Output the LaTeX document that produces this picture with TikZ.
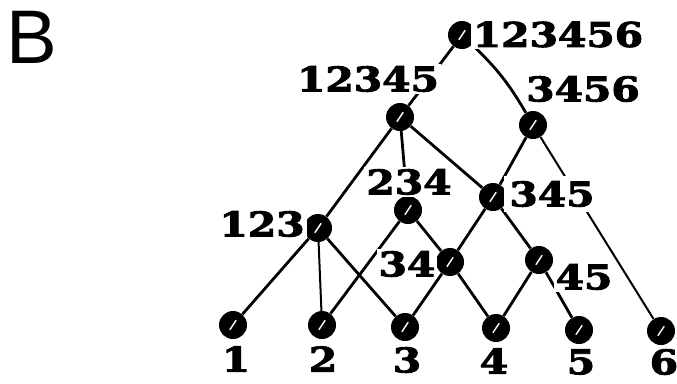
\documentclass[tikz,border=0pt]{standalone}
\usepackage{fontspec}
\usepackage{graphicx}
\setmainfont{DejaVu Serif}
\newfontfamily\labfont{DejaVu Serif}[BoldFeatures={FakeBold=2.5}]
\newfontfamily\panelfont{Liberation Sans}
\usetikzlibrary{backgrounds}
\newcommand\widelabel[1]{\scalebox{1.2}[1]{#1}}
\begin{document}
\begin{tikzpicture}[x=1pt,y=-1pt,
  vtx/.style={circle,fill=black,minimum size=28pt,inner sep=0pt,
    path picture={\draw[white,line width=1.4pt,line cap=round]
      ([shift={(-3pt,-4.5pt)}]path picture bounding box.center) --
      ([shift={(3pt,4.5pt)}]path picture bounding box.center);}},
  lbl/.style={fill=white,inner sep=2pt,font=\labfont\fontsize{34}{34}\selectfont\bfseries},
  edge/.style={line width=2.8pt},
  thinedge/.style={line width=2pt}]
\useasboundingbox (0,0) rectangle (677,383);

% panel letter
\node[font=\panelfont\fontsize{76}{76}\selectfont] (panel) at (32,37.5) {B};

% vertices of the lattice
\node[vtx] (v123456) at (462,35) {};
\node[vtx] (v12345) at (400,117) {};
\node[vtx] (v3456) at (533,125) {};
\node[vtx] (v345) at (493,197) {};
\node[vtx] (v234) at (408,210) {};
\node[vtx] (v123) at (318,228) {};
\node[vtx] (v34) at (450,262) {};
\node[vtx] (v45) at (539,260) {};
\node[vtx] (v1) at (233,325) {};
\node[vtx] (v2) at (322,325) {};
\node[vtx] (v3) at (405,327) {};
\node[vtx] (v4) at (496,328) {};
\node[vtx] (v5) at (579,330) {};
\node[vtx] (v6) at (661,331) {};

% labels (white background hides the lines passing behind them)
\node[lbl] (l123456) at (558,34.5) {\widelabel{123456}};
\node[lbl] (l12345) at (368,79) {\widelabel{12345}};
\node[lbl] (l3456) at (583,89) {\widelabel{3456}};
\node[lbl] (l234) at (409,182) {\widelabel{234}};
\node[lbl,inner sep=5pt] (l345) at (552,194) {\widelabel{345}};
\node[lbl] (l123) at (262,224) {\widelabel{123}};
\node[lbl] (l34) at (407,264) {\widelabel{34}};
\node[lbl] (l45) at (584,277) {\widelabel{45}};
\node[lbl] (l1) at (236,359) {\widelabel{1}};
\node[lbl] (l2) at (323,359) {\widelabel{2}};
\node[lbl] (l3) at (407,360) {\widelabel{3}};
\node[lbl] (l4) at (494,361) {\widelabel{4}};
\node[lbl] (l5) at (581,362) {\widelabel{5}};
\node[lbl] (l6) at (664,362) {\widelabel{6}};

\begin{pgfonlayer}{background}
  \draw[edge] (v123456) -- (v12345);
  \draw[edge] (v123456) to[bend left=8] (v3456);
  \draw[edge] (v3456) -- (v345);
  \draw[thinedge] (v3456) -- (v6);
  \draw[edge] (v12345) -- (v123);
  \draw[edge] (v12345) -- (v234);
  \draw[edge] (v12345) -- (v345);
  \draw[edge] (v345) -- (v34);
  \draw[edge] (v345) -- (v45);
  \draw[edge] (v123) -- (v1);
  \draw[thinedge] (v123) -- (v2);
  \draw[edge] (v123) -- (v3);
  \draw[edge] (v234) -- (v2);
  \draw[edge] (v234) -- (v34);
  \draw[edge] (v34) -- (v3);
  \draw[edge] (v34) -- (v4);
  \draw[edge] (v45) -- (v4);
  \draw[edge] (v45) -- (v5);
\end{pgfonlayer}
\end{tikzpicture}
\end{document}
